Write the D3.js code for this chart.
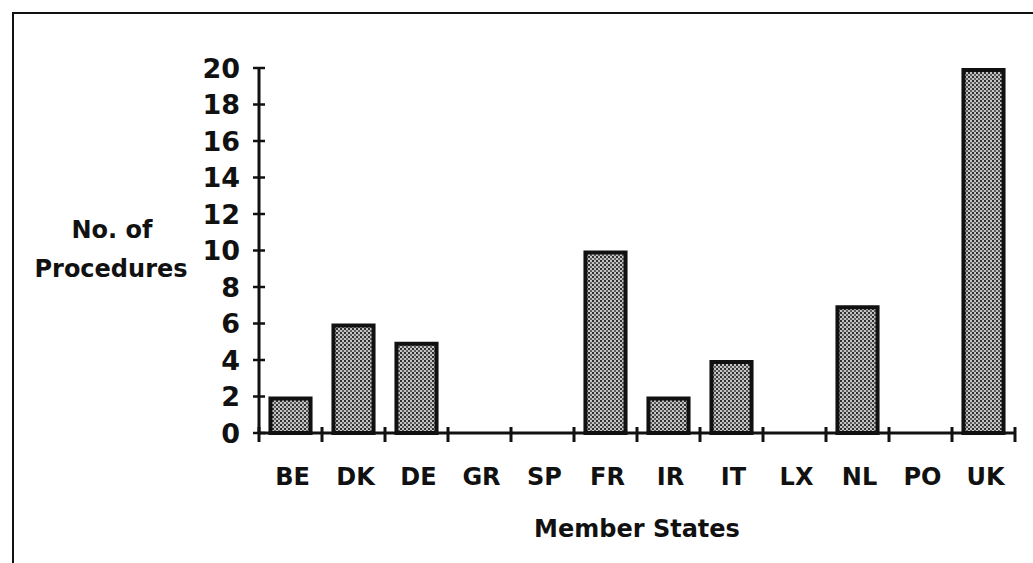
<!DOCTYPE html>
<html>
<head>
<meta charset="utf-8">
<script src="https://cdn.jsdelivr.net/npm/d3@7"></script>
<style>
  body { margin: 0; background: #fff; }
  text { font-family: "DejaVu Sans", sans-serif; font-weight: bold; fill: #111; }
</style>
</head>
<body>
<div id="chart"></div>
<script>

// data
var states = ["BE", "DK", "DE", "GR", "SP", "FR", "IR", "IT", "LX", "NL", "PO", "UK"]
var procedures = [2, 6, 5, 0, 0, 10, 2, 4, 0, 7, 0, 20]
var yTicks = [0, 2, 4, 6, 8, 10, 12, 14, 16, 18, 20]

var width = 1033, height = 563
var margin = { top: 68, right: 18, bottom: 130, left: 259 }

var svg = d3.select("#chart").append("svg")
    .attr("width", width)
    .attr("height", height)

// stipple fill for the bars
var defs = svg.append("defs")
var pat = defs.append("pattern")
    .attr("id", "stipple")
    .attr("patternUnits", "userSpaceOnUse")
    .attr("width", 4)
    .attr("height", 4)
pat.append("rect").attr("width", 4).attr("height", 4).attr("fill", "#c4c4c4")
pat.append("rect").attr("x", 0).attr("y", 0).attr("width", 2).attr("height", 2).attr("fill", "#2e2e2e")
pat.append("rect").attr("x", 2).attr("y", 2).attr("width", 2).attr("height", 2).attr("fill", "#5a5a5a")

// frame: top and left edges only
svg.append("line")
    .attr("x1", 12).attr("x2", width).attr("y1", 13).attr("y2", 13)
    .attr("stroke", "#111").attr("stroke-width", 2)
svg.append("line")
    .attr("x1", 13).attr("x2", 13).attr("y1", 12).attr("y2", height)
    .attr("stroke", "#111").attr("stroke-width", 2)

var x = d3.scaleBand()
    .domain(states)
    .range([margin.left, width - margin.right])
    .paddingInner(0.3)
    .paddingOuter(0.15)

var y = d3.scaleLinear()
    .domain([0, 20])
    .range([height - margin.bottom, margin.top])

var barData = states.map(function(s, i) { return { state: s, value: procedures[i] } })
    .filter(function(d) { return d.value > 0 })

// bars
svg.selectAll(".bar")
    .data(barData)
    .enter().append("rect")
    .attr("class", "bar")
    .attr("x", function(d) { return x(d.state) + 2 })
    .attr("y", function(d) { return y(d.value) + 2 })
    .attr("width", x.bandwidth() - 4)
    .attr("height", function(d) { return y(0) - y(d.value) - 2 })
    .attr("fill", "url(#stipple)")
    .attr("stroke", "#111")
    .attr("stroke-width", 4)

// y axis
var yAxis = svg.append("g")
yAxis.append("line")
    .attr("x1", margin.left).attr("x2", margin.left)
    .attr("y1", y(20)).attr("y2", y(0))
    .attr("stroke", "#111").attr("stroke-width", 3)
yAxis.selectAll(".ytick")
    .data(yTicks)
    .enter().append("line")
    .attr("x1", margin.left - 6).attr("x2", margin.left + 6)
    .attr("y1", function(d) { return y(d) }).attr("y2", function(d) { return y(d) })
    .attr("stroke", "#111").attr("stroke-width", 2.5)
yAxis.selectAll(".ylab")
    .data(yTicks)
    .enter().append("text")
    .attr("x", margin.left - 19)
    .attr("y", function(d) { return y(d) })
    .attr("dy", "0.36em")
    .attr("text-anchor", "end")
    .style("font-size", "27px")
    .text(function(d) { return d })

// x axis with ticks on band edges
var xAxis = svg.append("g")
xAxis.append("line")
    .attr("x1", margin.left).attr("x2", width - margin.right)
    .attr("y1", y(0)).attr("y2", y(0))
    .attr("stroke", "#111").attr("stroke-width", 3)
var edges = states.map(function(s) { return x(s) - x.step() * x.paddingInner() / 2 })
edges.push(width - margin.right)
xAxis.selectAll(".xtick")
    .data(edges)
    .enter().append("line")
    .attr("x1", function(d) { return d }).attr("x2", function(d) { return d })
    .attr("y1", y(0) - 6).attr("y2", y(0) + 9)
    .attr("stroke", "#111").attr("stroke-width", 3)
xAxis.selectAll(".xlab")
    .data(states)
    .enter().append("text")
    .attr("x", function(d) { return x(d) + x.bandwidth() / 2 + 2 })
    .attr("y", 485)
    .attr("text-anchor", "middle")
    .style("font-size", "24px")
    .text(function(d) { return d })

// axis titles
svg.append("text")
    .attr("x", 637).attr("y", 537)
    .attr("text-anchor", "middle")
    .style("font-size", "24px")
    .text("Member States")

svg.append("text")
    .attr("x", 112).attr("y", 238)
    .attr("text-anchor", "middle")
    .style("font-size", "24px")
    .text("No. of")
svg.append("text")
    .attr("x", 111).attr("y", 277)
    .attr("text-anchor", "middle")
    .style("font-size", "24px")
    .text("Procedures")

</script>
</body>
</html>
